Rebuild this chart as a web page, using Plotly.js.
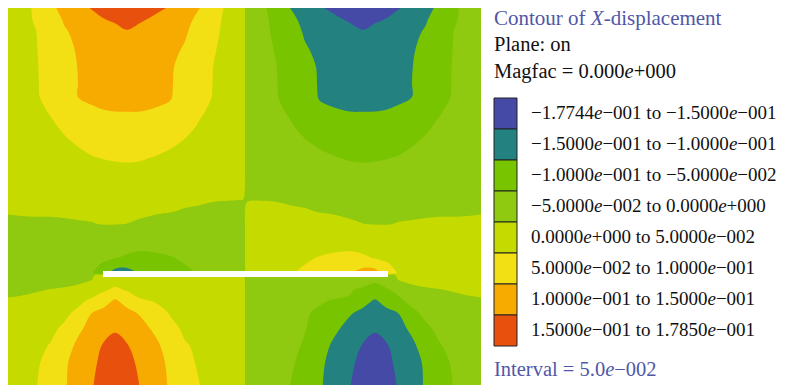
<!DOCTYPE html>
<html>
<head>
<meta charset="utf-8">
<script src="https://cdn.plot.ly/plotly-3.0.1.min.js"></script>
<style>html,body{margin:0;padding:0;background:#fff}#chart{width:793px;height:385px}</style>
</head>
<body>
<div id="chart"></div>
<script>
// Model coordinates (mm): x across the section, y = depth from the top edge
const xCoords = [0, 14, 28, 42, 56, 70, 84, 95, 107, 119, 132, 147, 162, 177, 192, 206, 220, 235,
                 239, 254, 268, 282, 297, 312, 327, 342, 355, 367, 379, 390, 404, 418, 432, 446, 460, 474];
const yCoords = [0, 12, 25, 42, 59, 75, 89, 105, 120, 135, 150, 165, 180, 192, 204, 216, 228, 240, 250, 258,
                 265, 267, 274, 282, 292, 305, 320, 337, 355, 377];

// X-displacement, in units of 1e-3
const dispX = [
 [30,42,54,89,114,136,153,160,168,175,167,158,147,123,100,65,43,30, -30,-43,-65,-100,-123,-147,-158,-167,-175,-168,-160,-153,-136,-114,-89,-54,-42,-30],
 [30,41,53,79,103,119,135,148,154,159,154,143,127,111,89,60,41,28, -28,-41,-60,-89,-111,-127,-143,-154,-159,-154,-148,-135,-119,-103,-79,-53,-41,-30],
 [30,40,49,72,95,109,120,128,138,147,137,126,115,104,81,56,41,28, -28,-41,-56,-81,-104,-115,-126,-137,-147,-138,-128,-120,-109,-95,-72,-49,-40,-30],
 [30,39,48,67,87,104,114,122,131,140,131,120,109,96,73,52,40,28, -28,-40,-52,-73,-96,-109,-120,-131,-140,-131,-122,-114,-104,-87,-67,-48,-39,-30],
 [30,39,47,64,83,101,110,117,124,132,124,114,104,89,68,49,39,28, -28,-39,-49,-68,-89,-104,-114,-124,-132,-124,-117,-110,-101,-83,-64,-47,-39,-30],
 [30,38,47,62,81,100,107,113,119,123,117,110,103,88,66,48,38,27, -27,-38,-48,-66,-88,-103,-110,-117,-123,-119,-113,-107,-100,-81,-62,-47,-38,-30],
 [30,38,46,61,80,100,104,107,110,113,110,106,102,87,65,47,38,27, -27,-38,-47,-65,-87,-102,-106,-110,-113,-110,-107,-104,-100,-80,-61,-46,-38,-30],
 [29,36,43,51,71,93,96,98,99,99,99,97,94,78,53,43,35,27, -27,-35,-43,-53,-78,-94,-97,-99,-99,-99,-98,-96,-93,-71,-51,-43,-36,-29],
 [28,34,40,45,53,66,75,80,84,85,84,78,70,57,46,40,33,26, -26,-33,-40,-46,-57,-70,-78,-84,-85,-84,-80,-75,-66,-53,-45,-40,-34,-28],
 [27,32,37,41,46,52,61,66,69,70,69,64,55,47,41,36,31,25, -25,-31,-36,-41,-47,-55,-64,-69,-70,-69,-66,-61,-52,-46,-41,-37,-32,-27],
 [25,28,32,36,40,44,48,51,53,54,53,48,43,38,34,30,26,22, -22,-26,-30,-34,-38,-43,-48,-53,-54,-53,-51,-48,-44,-40,-36,-32,-28,-25],
 [18,21,24,27,30,33,36,38,40,41,39,35,31,26,22,19,16,14, -14,-16,-19,-22,-26,-31,-35,-39,-41,-40,-38,-36,-33,-30,-27,-24,-21,-18],
 [12,14,16,18,20,22,24,26,28,29,27,24,19,14,11,8,7,6, -6,-7,-8,-11,-14,-19,-24,-27,-29,-28,-26,-24,-22,-20,-18,-16,-14,-12],
 [6,7,7,8,9,10,11,12,14,15,12,9,7,4,3,1,0.5,-0.3, -1.5,-0.5,-1,-3,-4,-7,-9,-12,-15,-14,-12,-11,-10,-9,-8,-7,-7,-6],
 [1,2,2,2,3,4,5,6,7,6,4,2,0.5,-2,-4,-6,-7,-7, 7,7,6,4,2,-0.5,-2,-4,-6,-7,-6,-5,-4,-3,-2,-2,-2,-1],
 [-4,-4,-3,-3,-3,-2,-1,1,1,-0.3,-3,-7,-11,-14,-16,-17,-16,-14, 14,16,17,16,14,11,7,3,0.3,-1,-1,1,2,3,3,3,4,4],
 [-9,-9,-9,-9,-10,-11,-13,-16,-19,-23,-27,-30,-31,-30,-28,-24,-20,-17, 17,20,24,28,30,31,30,27,23,19,16,13,11,10,9,9,9,9],
 [-13,-13,-13,-13,-14,-16,-21,-27,-34,-41,-46,-45,-42,-38,-34,-29,-25,-22, 22,25,29,34,38,42,45,46,41,34,27,21,16,14,13,13,13,13],
 [-15,-16,-16,-16,-17,-20,-28,-38,-48,-56,-58,-56,-52,-46,-40,-35,-30,-27, 27,30,35,40,46,52,56,58,56,48,38,28,20,17,16,16,16,15],
 [-16,-17,-17,-17,-18,-22,-36,-60,-90,-92,-76,-65,-57,-51,-44,-38,-33,-30, 30,33,38,44,51,57,65,76,92,90,60,36,22,18,17,17,17,16],
 [-16,-17,-17,-17,-18,-22,-45,-80,-115,-120,-95,-70,-62,-55,-47,-40,-35,-32, 32,35,40,47,55,62,70,95,120,115,80,45,22,18,17,17,17,16],
 [-15,-16,-15,-13,-11,-8,-4,12,20,20,20,21,22,23,24,24,25,25, -25,-25,-24,-24,-23,-22,-21,-20,-20,-20,-12,4,8,11,13,15,16,15],
 [-12,-12,-10,-8,-6,-3,2,20,35,28,25,25,25,25,25,25,26,26, -26,-26,-25,-25,-25,-25,-25,-25,-36,-48,-32,-2,3,6,8,10,12,12],
 [-6,-5,-2,1,3,7,15,42,60,46,35,30,28,27,27,27,27,27, -27,-27,-27,-27,-27,-28,-33,-47,-58,-66,-55,-38,-7,-3,-1,2,5,6],
 [2,4,7,12,20,33,60,82,103,84,53,46,44,41,38,35,31,28, -28,-31,-35,-38,-41,-46,-52,-53,-84,-103,-82,-60,-33,-20,-12,-7,-4,-2],
 [9,12,17,24,36,63,100,111,123,111,96,67,48,45,41,38,34,30, -30,-34,-38,-41,-47,-55,-67,-96,-111,-123,-111,-100,-63,-36,-24,-17,-12,-9],
 [16,19,25,36,59,91,114,130,147,131,114,92,58,45,42,39,35,31, -31,-35,-39,-43,-49,-58,-92,-114,-131,-147,-130,-114,-91,-59,-36,-25,-19,-16],
 [23,28,37,52,80,108,136,152,158,152,134,109,82,52,45,42,38,33, -33,-38,-42,-45,-52,-82,-109,-134,-152,-158,-152,-136,-108,-80,-52,-37,-28,-23],
 [30,35,44,64,92,119,144,157,167,158,145,118,91,60,45,43,39,34, -34,-39,-43,-45,-60,-91,-118,-145,-158,-167,-157,-144,-119,-92,-64,-44,-35,-30],
 [36,41,48,69,94,121,148,162,178,165,149,122,95,73,50,45,41,36, -36,-41,-45,-50,-73,-95,-122,-149,-165,-177,-162,-148,-121,-94,-69,-48,-41,-36]
];

// Crack (white slit) position in model coordinates
const crackX = [95, 380];
const crackY = [263, 269];

// Contour levels (1e-3 units) and legend
const levelStart = -150, levelEnd = 150, levelStep = 50;
const bandColors = ['#444aa6', '#238280', '#78c400', '#8fc910', '#c5db00', '#f2e014', '#f7aa00', '#e8500e'];
const bandLabels = [
  '\u22121.7744<i>e</i>\u2212001 to \u22121.5000<i>e</i>\u2212001',
  '\u22121.5000<i>e</i>\u2212001 to \u22121.0000<i>e</i>\u2212001',
  '\u22121.0000<i>e</i>\u2212001 to \u22125.0000<i>e</i>\u2212002',
  '\u22125.0000<i>e</i>\u2212002 to 0.0000<i>e</i>+000',
  '0.0000<i>e</i>+000 to 5.0000<i>e</i>\u2212002',
  '5.0000<i>e</i>\u2212002 to 1.0000<i>e</i>\u2212001',
  '1.0000<i>e</i>\u2212001 to 1.5000<i>e</i>\u2212001',
  '1.5000<i>e</i>\u2212001 to 1.7850<i>e</i>\u2212001'
];
const headerLines = ['Contour of <i>X</i>-displacement', 'Plane: on', 'Magfac = 0.000<i>e</i>+000'];
const footerText = 'Interval = 5.0<i>e</i>\u2212002';

const colorscale = bandColors.map((c, i) => [i / (bandColors.length - 1), c]);

// layout helpers (pixel -> paper)
const L = 8, T = 8, PW = 473, PH = 377;
const px = v => (v - L) / PW;
const py = v => 1 - (v - T) / PH;

const serif = 'Liberation Serif, Times New Roman, serif';
const blue = '#5057a7';
const shapes = [];
const annotations = [];

shapes.push({type: 'rect', xref: 'x', yref: 'y', x0: crackX[0], x1: crackX[1], y0: crackY[0], y1: crackY[1],
  fillcolor: '#ffffff', line: {width: 0}, layer: 'above'});

const swTop = 98, swH = 31;
bandColors.forEach((c, i) => {
  shapes.push({type: 'rect', xref: 'paper', yref: 'paper', x0: px(494), x1: px(517),
    y0: py(swTop + swH * (i + 1)), y1: py(swTop + swH * i), fillcolor: c, line: {color: '#222222', width: 1}});
  annotations.push({xref: 'paper', yref: 'paper', x: px(529), y: py(swTop + swH * i + swH / 2 - 1),
    xanchor: 'left', yanchor: 'middle', showarrow: false, text: bandLabels[i],
    font: {family: serif, size: 19, color: '#111111'}});
});
const headerY = [18, 44, 71];
headerLines.forEach((t, i) => {
  annotations.push({xref: 'paper', yref: 'paper', x: px(492), y: py(headerY[i]), xanchor: 'left', yanchor: 'middle',
    showarrow: false, text: t, font: {family: serif, size: i === 0 ? 21 : 20.5, color: i === 0 ? blue : '#111111'}});
});
annotations.push({xref: 'paper', yref: 'paper', x: px(492), y: py(369), xanchor: 'left', yanchor: 'middle',
  showarrow: false, text: footerText, font: {family: serif, size: 20.5, color: blue}});

const trace = {
  type: 'contour', x: xCoords, y: yCoords, z: dispX,
  autocontour: false,
  contours: {start: levelStart, end: levelEnd, size: levelStep, coloring: 'fill', showlines: false},
  line: {width: 0, smoothing: 1},
  colorscale: colorscale, showscale: false, hoverinfo: 'skip'
};

const layout = {
  width: 793, height: 385,
  margin: {l: L, r: 793 - L - PW, t: T, b: 385 - T - PH, pad: 0},
  paper_bgcolor: '#ffffff', plot_bgcolor: '#ffffff',
  xaxis: {range: [0, 473], visible: false, fixedrange: true},
  yaxis: {range: [377, 0], visible: false, fixedrange: true},
  shapes: shapes, annotations: annotations, showlegend: false
};

Plotly.newPlot('chart', [trace], layout, {staticPlot: true, displayModeBar: false});
</script>
</body>
</html>
